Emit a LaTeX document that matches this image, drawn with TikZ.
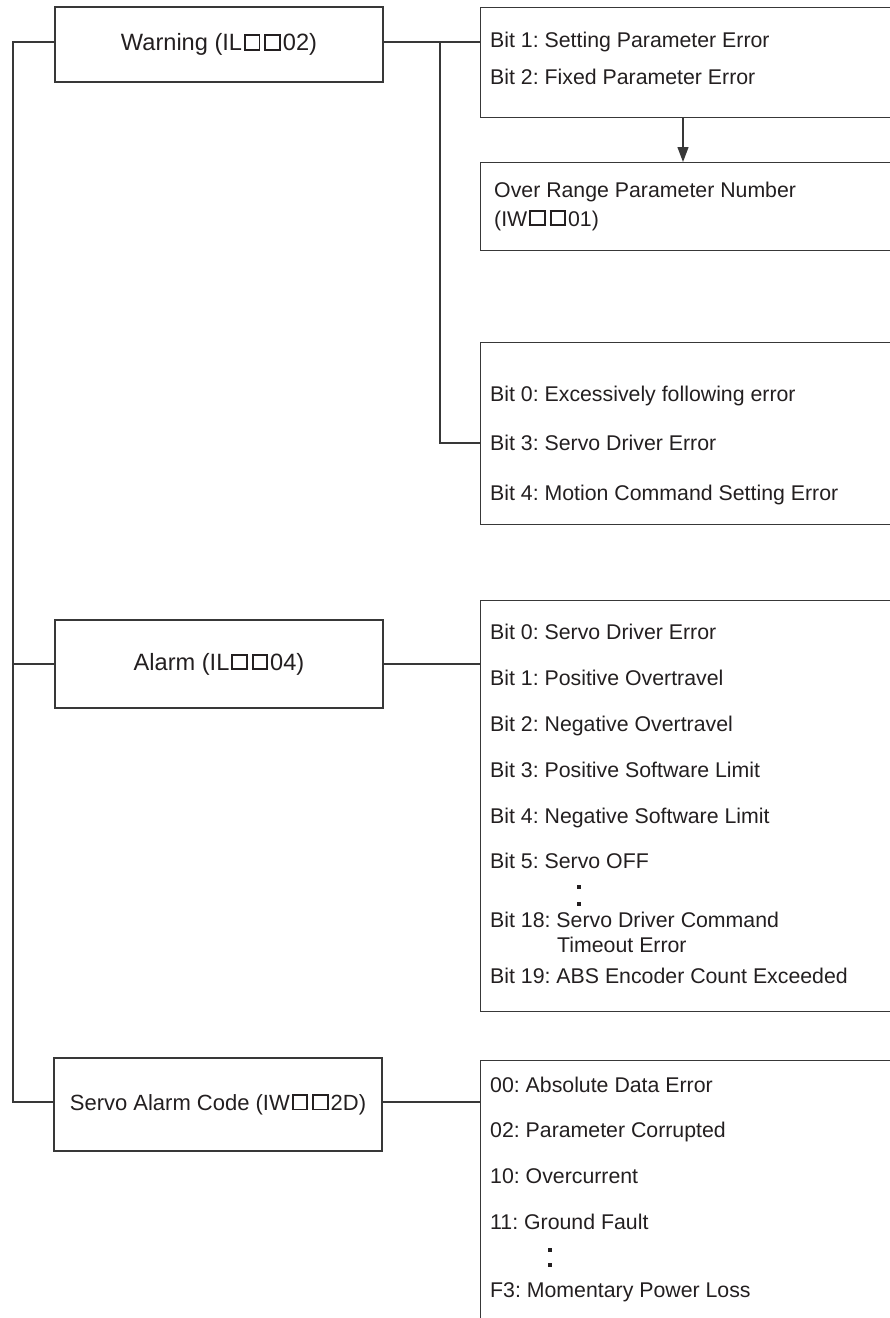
\documentclass[tikz,border=0pt]{standalone}
\usepackage{fontspec}
\setmainfont{Liberation Sans}
\usetikzlibrary{arrows.meta}
\definecolor{ln}{HTML}{383838}
\definecolor{tx}{HTML}{231F20}
\newcommand\sqg{\kern2pt\raisebox{1.9pt}{\setlength{\fboxrule}{1.9pt}\setlength{\fboxsep}{0pt}\fbox{\rule{0pt}{12.6pt}\hspace{12.6pt}}}\kern2pt}
\begin{document}
\frenchspacing
\begin{tikzpicture}[x=1pt,y=-1pt,
  line/.style={draw=ln, line width=1.3pt},
  lbox/.style={line, rectangle, inner sep=0pt, minimum width=328pt, text=tx, font=\fontsize{23.6}{27}\selectfont\frenchspacing},
  rbox/.style={line, rectangle, anchor=north west, inner sep=0pt, minimum width=500pt},
  item/.style={anchor=base west, inner sep=0pt, text=tx, font=\fontsize{21.3}{25}\selectfont\frenchspacing},
  dotm/.style={fill=tx, rectangle, minimum size=4.5pt, inner sep=0pt}
]
\path[use as bounding box] (0,0) rectangle (890,1318);
\clip (0,0) rectangle (890,1318);

% left boxes
\node[lbox, minimum height=75pt] (w) at (219,44.5) {Warning (IL\sqg\sqg02)};
\node[lbox, minimum height=88pt] (a) at (219,664) {Alarm (IL\sqg\sqg04)};
\node[lbox, minimum height=93pt, font=\fontsize{22}{26}\selectfont\frenchspacing] (s) at (218,1104.5) {Servo Alarm Code (IW\sqg\sqg2D)};

% right boxes
\node[rbox, minimum height=109.5pt] (b1) at (480,7) {};
\node[rbox, minimum height=88pt] (b2) at (480,162) {};
\node[rbox, minimum height=182pt] (b3) at (480,342) {};
\node[rbox, minimum height=411pt] (b4) at (480,600) {};
\node[rbox, minimum height=320pt] (b5) at (480,1060) {};

% texts
\node[item] (t11) at (490,47.5) {Bit 1: Setting Parameter Error};
\node[item] (t12) at (490,84) {Bit 2: Fixed Parameter Error};
\node[item] (t21) at (494,197) {Over Range Parameter Number};
\node[item] (t22) at (494,226) {(IW\sqg\sqg01)};
\node[item] (t31) at (490,401) {Bit 0: Excessively following error};
\node[item] (t32) at (490,450.5) {Bit 3: Servo Driver Error};
\node[item] (t33) at (490,500) {Bit 4: Motion Command Setting Error};
\node[item] (t40) at (490,639) {Bit 0: Servo Driver Error};
\node[item] (t41) at (490,685) {Bit 1: Positive Overtravel};
\node[item] (t42) at (490,731) {Bit 2: Negative Overtravel};
\node[item] (t43) at (490,777) {Bit 3: Positive Software Limit};
\node[item] (t44) at (490,823) {Bit 4: Negative Software Limit};
\node[item] (t45) at (490,868) {Bit 5: Servo OFF};
\node[dotm] (d41) at (579,887) {};
\node[dotm] (d42) at (579,904) {};
\node[item] (t46) at (490,927) {Bit 18: Servo Driver Command};
\node[item] (t47) at (557,952) {Timeout Error};
\node[item] (t48) at (490,983) {Bit 19: ABS Encoder Count Exceeded};
\node[item] (t50) at (490,1092) {00: Absolute Data Error};
\node[item] (t51) at (490,1137) {02: Parameter Corrupted};
\node[item] (t52) at (490,1183) {10: Overcurrent};
\node[item] (t53) at (490,1229) {11: Ground Fault};
\node[dotm] (d51) at (550,1250) {};
\node[dotm] (d52) at (550,1265) {};
\node[item] (t54) at (490,1297) {F3: Momentary Power Loss};

% junction coordinates
\coordinate (ls) at (13,0);
\coordinate (rs) at (440,0);
\coordinate (ar) at (683,0);
\coordinate (j1) at (480,42);
\coordinate (j3) at (480,443);

% left spine
\draw[line] ([yshift=2.5pt]w.west) -- ([yshift=2.5pt]w.west -| ls) -- ([yshift=2.5pt]s.west -| ls) -- ([yshift=2.5pt]s.west);
\draw[line] (a.west) -- (a.west -| ls);

% right connectors
\draw[line] ([yshift=2.5pt]w.east) -- (j1);
\draw[line] (j1 -| rs) |- (j3);
\draw[line] (a.east) -- (a.east -| b4.west);
\draw[line] ([yshift=2.5pt]s.east) -- ([yshift=2.5pt]s.east -| b5.west);

% arrow
\draw[line, -{Triangle[length=15pt,width=11pt]}] (b1.south -| ar) -- (b2.north -| ar);
\end{tikzpicture}
\end{document}
